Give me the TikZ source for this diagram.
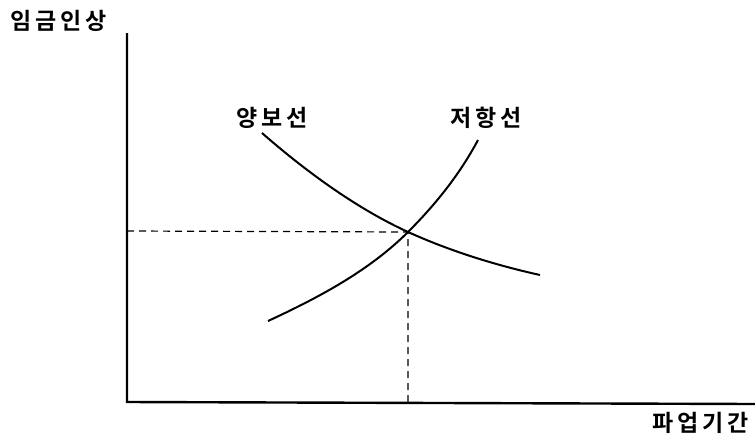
\documentclass[tikz,border=0pt]{standalone}
\usepackage{fontspec}
\newfontfamily\kr{Noto Sans CJK KR Bold}
\begin{document}
\begin{tikzpicture}[x=1pt,y=-1pt,
  axis/.style={line width=2.4pt,black},
  curve/.style={line width=2pt,black},
  guide/.style={line width=1.2pt,dashed,dash pattern=on 7pt off 5pt},
  lbl/.style={font=\kr\fontsize{23}{26}\selectfont,inner sep=0pt}]
\useasboundingbox (0,0) rectangle (755,437);
\coordinate (O) at (127,402);
\coordinate (Ytop) at (127,33);
\coordinate (Xend) at (755,404);
\coordinate (E) at (408,232);
\coordinate (Ey) at (127,231);
\coordinate (Ex) at (408,402);
\draw[axis] (Ytop) -- (O) -- (Xend);
\draw[guide] (Ey) -- (E) -- (Ex);
\draw[curve] (262,133) .. controls (310,175) and (360,210) .. (E)
  .. controls (450,251) and (495,265) .. (540,275);
\draw[curve] (268,321) .. controls (320,297) and (370,270) .. (E)
  .. controls (440,200) and (462,170) .. (478,140);
\node[lbl] (ylab) at (59,21) {임\,금\,인\,상};
\node[lbl] (c1) at (272,118) {양\,보\,선};
\node[lbl] (c2) at (486,118) {저\,항\,선};
\node[lbl] (xlab) at (701,423) {파\,업\,기\,간};
\end{tikzpicture}
\end{document}
